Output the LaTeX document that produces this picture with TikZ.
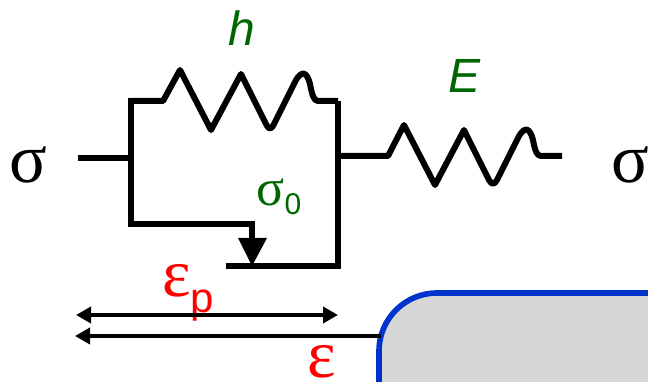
\documentclass[tikz,border=0pt]{standalone}
\usepackage{fontspec}
\setmainfont{Liberation Serif}
\setsansfont{Liberation Sans}
\usetikzlibrary{arrows.meta}
\definecolor{labelgreen}{HTML}{006600}
\definecolor{boxblue}{HTML}{0033CC}
\definecolor{boxgrey}{HTML}{D6D6D6}
\begin{document}
\begin{tikzpicture}[
	x=1pt, y=-1pt,
	every node/.style={inner sep=0pt, outer sep=0pt},
	wire/.style={line width=5.6pt, line join=miter},
	spring/.style={line width=6pt, line join=round},
	span/.style={line width=3.6pt, -{Triangle[length=15pt, width=16pt]}},
	stress/.style={font=\fontsize{70}{70}\selectfont},
	param/.style={text=labelgreen, font=\sffamily\itshape\fontsize{48}{48}\selectfont},
	yield/.style={text=labelgreen, font=\fontsize{52}{52}\selectfont},
	strain/.style={text=red, font=\fontsize{68}{68}\selectfont},
]
\useasboundingbox (0,0) rectangle (648,382);
\clip (0,0) rectangle (648,382);
\node [stress] (sigmaL) at (28,165) {σ};
\node [stress] (sigmaR) at (630,165) {σ};
\node [param] (h) at (242,28) {h};
\node [param] (E) at (465,76) {E};
\node [yield] (sigmaY) at (279,197) {σ\raisebox{-9pt}{\sffamily\fontsize{30}{30}\selectfont 0}};
\node [strain] (epsP) at (188,293) {ε\raisebox{-16pt}{\sffamily\fontsize{42}{42}\selectfont p}};
\node [strain] (eps) at (322,362) {ε};
\node [draw=boxblue, fill=boxgrey, line width=5.6pt, rounded corners=58pt, minimum width=400pt, minimum height=200pt, anchor=north west] (box) at (379,293) {};
\coordinate (inL) at (78,158);
\coordinate (frameTL) at (131,101);
\coordinate (frameBL) at (131,224);
\coordinate (frameTR) at (338,101);
\coordinate (frameBR) at (338,266);
\coordinate (plate) at (226,266);
\coordinate (rod) at (252,224);
\coordinate (rodEnd) at (252,240);
\coordinate (tipEnd) at (252,266);
\coordinate (outL) at (338,156);
\coordinate (outR) at (562,156);
\coordinate (upperL) at (76,315);
\coordinate (upperR) at (338,315);
\coordinate (lowerL) at (75,336);
\coordinate (lowerR) at (381,336);
% frame
\draw [wire] (inL) -- (inL -| frameTL);
\draw [wire] ([yshift=2.8pt]frameTL) -- (frameBL) -- (rod) -- (rodEnd);
\draw [wire] (plate) -- (frameBR) -- (frameTR);
\fill (238,238) -- (267,238) -- (tipEnd) -- cycle;
% springs
\draw [spring] (frameTL) -- (163,101) -- (180,70) -- (211,130) -- (241,74) -- (266,124) .. controls (269,130) and (271,130) .. (274,124) -- (296,80) .. controls (302,70) and (307,72) .. (310,84) .. controls (312,95) and (314,101) .. (318,101) -- (frameTR);
\draw [spring] (outL) -- (388,156) -- (404,125) -- (435,185) -- (464,130) -- (489,180) .. controls (492,185) and (494,185) .. (497,180) -- (519,136) .. controls (525,126) and (530,128) .. (533,140) .. controls (535,151) and (537,156) .. (541,156) -- (outR);
% strains
\draw [span, {Triangle[length=15pt, width=16pt]}-{Triangle[length=15pt, width=16pt]}] (upperL) -- (upperR);
\draw [span] (lowerR) -- (lowerL);
\end{tikzpicture}
\end{document}
